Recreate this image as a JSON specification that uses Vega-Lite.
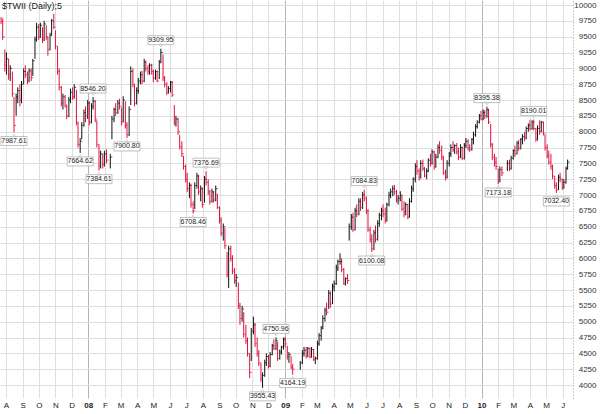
{
"$schema":"https://vega.github.io/schema/vega-lite/v6.json",
"width":573,"height":398,
"autosize":{"type":"none"},
"padding":{"left":0,"top":0,"right":27,"bottom":16},
"background":"white",
"config":{"view":{"stroke":null}},
"title":{"text":"$TWII (Daily);5","anchor":"start","offset":-11,"fontSize":9,"font":"Liberation Sans","fontWeight":"normal","color":"#222","frame":"group","dx":2},
"datasets":{
"px":[
{"d":"2007-07-23","o":9760,"h":9810,"l":9700,"c":9740},
{"d":"2007-07-26","o":9740,"h":9790,"l":9450,"c":9500},
{"d":"2007-07-30","o":9200,"h":9300,"l":8950,"c":9050},
{"d":"2007-08-02","o":9000,"h":9250,"l":8900,"c":9150},
{"d":"2007-08-06","o":9100,"h":9150,"l":8820,"c":8900},
{"d":"2007-08-09","o":8900,"h":9050,"l":8800,"c":9000},
{"d":"2007-08-13","o":8900,"h":8950,"l":8550,"c":8600},
{"d":"2007-08-16","o":8500,"h":8550,"l":7988,"c":8100},
{"d":"2007-08-20","o":8300,"h":8600,"l":8250,"c":8550},
{"d":"2007-08-23","o":8550,"h":8700,"l":8450,"c":8650},
{"d":"2007-08-27","o":8650,"h":8750,"l":8400,"c":8500},
{"d":"2007-08-30","o":8500,"h":8800,"l":8450,"c":8750},
{"d":"2007-09-03","o":8800,"h":9000,"l":8750,"c":8950},
{"d":"2007-09-06","o":8950,"h":9050,"l":8850,"c":8900},
{"d":"2007-09-10","o":8900,"h":8950,"l":8750,"c":8800},
{"d":"2007-09-13","o":8800,"h":9000,"l":8780,"c":8960},
{"d":"2007-09-17","o":8950,"h":9000,"l":8800,"c":8850},
{"d":"2007-09-20","o":8900,"h":9150,"l":8880,"c":9120},
{"d":"2007-09-24","o":9150,"h":9500,"l":9150,"c":9450},
{"d":"2007-09-27","o":9450,"h":9720,"l":9420,"c":9650},
{"d":"2007-10-01","o":9650,"h":9700,"l":9450,"c":9500},
{"d":"2007-10-04","o":9500,"h":9720,"l":9480,"c":9680},
{"d":"2007-10-08","o":9650,"h":9650,"l":9400,"c":9450},
{"d":"2007-10-11","o":9450,"h":9750,"l":9430,"c":9700},
{"d":"2007-10-15","o":9650,"h":9680,"l":9450,"c":9500},
{"d":"2007-10-18","o":9450,"h":9500,"l":9200,"c":9300},
{"d":"2007-10-22","o":9300,"h":9560,"l":9280,"c":9520},
{"d":"2007-10-25","o":9550,"h":9780,"l":9520,"c":9750},
{"d":"2007-10-29","o":9760,"h":9860,"l":9620,"c":9650},
{"d":"2007-11-01","o":9550,"h":9600,"l":9300,"c":9350},
{"d":"2007-11-05","o":9300,"h":9350,"l":8900,"c":8950},
{"d":"2007-11-08","o":8950,"h":9000,"l":8650,"c":8700},
{"d":"2007-11-12","o":8700,"h":8720,"l":8400,"c":8450},
{"d":"2007-11-15","o":8450,"h":8600,"l":8350,"c":8550},
{"d":"2007-11-19","o":8550,"h":8580,"l":8380,"c":8420},
{"d":"2007-11-22","o":8400,"h":8420,"l":8200,"c":8250},
{"d":"2007-11-26","o":8250,"h":8550,"l":8230,"c":8500},
{"d":"2007-11-29","o":8500,"h":8680,"l":8450,"c":8620},
{"d":"2007-12-03","o":8620,"h":8700,"l":8500,"c":8550},
{"d":"2007-12-06","o":8550,"h":8750,"l":8520,"c":8700},
{"d":"2007-12-10","o":8650,"h":8660,"l":8100,"c":8150},
{"d":"2007-12-13","o":8100,"h":8150,"l":7750,"c":7800},
{"d":"2007-12-17","o":7800,"h":7900,"l":7665,"c":7850},
{"d":"2007-12-20","o":7900,"h":8150,"l":7880,"c":8100},
{"d":"2007-12-24","o":8100,"h":8350,"l":8080,"c":8300},
{"d":"2007-12-27","o":8300,"h":8400,"l":8150,"c":8250},
{"d":"2007-12-31","o":8250,"h":8500,"l":8200,"c":8450},
{"d":"2008-01-03","o":8450,"h":8480,"l":8100,"c":8150},
{"d":"2008-01-07","o":8150,"h":8450,"l":8130,"c":8400},
{"d":"2008-01-10","o":8400,"h":8546,"l":8350,"c":8480},
{"d":"2008-01-14","o":8450,"h":8500,"l":8150,"c":8200},
{"d":"2008-01-17","o":8150,"h":8180,"l":7750,"c":7800},
{"d":"2008-01-21","o":7750,"h":7800,"l":7385,"c":7450},
{"d":"2008-01-24","o":7450,"h":7700,"l":7420,"c":7650},
{"d":"2008-01-28","o":7600,"h":7650,"l":7420,"c":7480},
{"d":"2008-01-31","o":7480,"h":7700,"l":7450,"c":7650},
{"d":"2008-02-04","o":7650,"h":7720,"l":7500,"c":7550},
{"d":"2008-02-11","o":7450,"h":7650,"l":7420,"c":7600},
{"d":"2008-02-14","o":7900,"h":8250,"l":7880,"c":8200},
{"d":"2008-02-18","o":8200,"h":8380,"l":8150,"c":8350},
{"d":"2008-02-21","o":8350,"h":8450,"l":8250,"c":8300},
{"d":"2008-02-25","o":8300,"h":8500,"l":8280,"c":8450},
{"d":"2008-02-28","o":8450,"h":8520,"l":8350,"c":8400},
{"d":"2008-03-03","o":8350,"h":8380,"l":8100,"c":8150},
{"d":"2008-03-06","o":8150,"h":8560,"l":8150,"c":8500},
{"d":"2008-03-10","o":8450,"h":8480,"l":8050,"c":8100},
{"d":"2008-03-13","o":8100,"h":8150,"l":7901,"c":7950},
{"d":"2008-03-17","o":7950,"h":8400,"l":7930,"c":8350},
{"d":"2008-03-20","o":8450,"h":9030,"l":8420,"c":8950},
{"d":"2008-03-24","o":8950,"h":9000,"l":8700,"c":8750},
{"d":"2008-03-27","o":8700,"h":8750,"l":8400,"c":8450},
{"d":"2008-03-31","o":8450,"h":8700,"l":8430,"c":8650},
{"d":"2008-04-03","o":8650,"h":8850,"l":8600,"c":8800},
{"d":"2008-04-07","o":8800,"h":8950,"l":8750,"c":8900},
{"d":"2008-04-10","o":8900,"h":8960,"l":8750,"c":8800},
{"d":"2008-04-14","o":8800,"h":9150,"l":8780,"c":9100},
{"d":"2008-04-17","o":9100,"h":9120,"l":8950,"c":9000},
{"d":"2008-04-21","o":9000,"h":9050,"l":8900,"c":8950},
{"d":"2008-04-24","o":8950,"h":9080,"l":8900,"c":9050},
{"d":"2008-04-28","o":9050,"h":9070,"l":8900,"c":8950},
{"d":"2008-05-01","o":8950,"h":8980,"l":8780,"c":8850},
{"d":"2008-05-05","o":8850,"h":8980,"l":8820,"c":8950},
{"d":"2008-05-08","o":8950,"h":8960,"l":8780,"c":8800},
{"d":"2008-05-12","o":8850,"h":9130,"l":8830,"c":9100},
{"d":"2008-05-15","o":9100,"h":9310,"l":9080,"c":9250},
{"d":"2008-05-19","o":9200,"h":9220,"l":8800,"c":8850},
{"d":"2008-05-22","o":8850,"h":8880,"l":8700,"c":8750},
{"d":"2008-05-26","o":8750,"h":8780,"l":8580,"c":8620},
{"d":"2008-05-29","o":8620,"h":8720,"l":8600,"c":8680},
{"d":"2008-06-02","o":8680,"h":8800,"l":8620,"c":8780},
{"d":"2008-06-05","o":8780,"h":8800,"l":8550,"c":8580},
{"d":"2008-06-09","o":8400,"h":8420,"l":8100,"c":8150},
{"d":"2008-06-12","o":8150,"h":8250,"l":8080,"c":8200},
{"d":"2008-06-16","o":8200,"h":8220,"l":7950,"c":8000},
{"d":"2008-06-19","o":7950,"h":7950,"l":7720,"c":7760},
{"d":"2008-06-23","o":7760,"h":7850,"l":7600,"c":7650},
{"d":"2008-06-26","o":7600,"h":7620,"l":7400,"c":7450},
{"d":"2008-06-30","o":7450,"h":7480,"l":7200,"c":7250},
{"d":"2008-07-03","o":7250,"h":7350,"l":7050,"c":7100},
{"d":"2008-07-07","o":7100,"h":7200,"l":6950,"c":7150},
{"d":"2008-07-10","o":7150,"h":7180,"l":6800,"c":6850},
{"d":"2008-07-14","o":6850,"h":6900,"l":6708,"c":6750},
{"d":"2008-07-17","o":6800,"h":7200,"l":6780,"c":7150},
{"d":"2008-07-21","o":7150,"h":7350,"l":7100,"c":7300},
{"d":"2008-07-24","o":7300,"h":7320,"l":7000,"c":7050},
{"d":"2008-07-28","o":7050,"h":7150,"l":6900,"c":7100},
{"d":"2008-07-31","o":7100,"h":7120,"l":6800,"c":6850},
{"d":"2008-08-04","o":6900,"h":7300,"l":6880,"c":7250},
{"d":"2008-08-07","o":7250,"h":7377,"l":7150,"c":7200},
{"d":"2008-08-11","o":7200,"h":7250,"l":7000,"c":7050},
{"d":"2008-08-14","o":7050,"h":7080,"l":6850,"c":6900},
{"d":"2008-08-18","o":6900,"h":7100,"l":6880,"c":7050},
{"d":"2008-08-21","o":7050,"h":7060,"l":6880,"c":6920},
{"d":"2008-08-25","o":6920,"h":7150,"l":6900,"c":7100},
{"d":"2008-08-28","o":7000,"h":7020,"l":6780,"c":6800},
{"d":"2008-09-01","o":6800,"h":6820,"l":6550,"c":6600},
{"d":"2008-09-04","o":6600,"h":6650,"l":6350,"c":6400},
{"d":"2008-09-08","o":6300,"h":6550,"l":6280,"c":6500},
{"d":"2008-09-11","o":6450,"h":6480,"l":6150,"c":6200},
{"d":"2008-09-15","o":6050,"h":6100,"l":5700,"c":5750},
{"d":"2008-09-18","o":5700,"h":6200,"l":5530,"c":6150},
{"d":"2008-09-22","o":6150,"h":6200,"l":5950,"c":6000},
{"d":"2008-09-25","o":6000,"h":6050,"l":5750,"c":5800},
{"d":"2008-09-29","o":5800,"h":5850,"l":5600,"c":5650},
{"d":"2008-10-02","o":5650,"h":5750,"l":5550,"c":5700},
{"d":"2008-10-06","o":5600,"h":5620,"l":5200,"c":5250},
{"d":"2008-10-09","o":5250,"h":5300,"l":4950,"c":5050},
{"d":"2008-10-13","o":5050,"h":5250,"l":5000,"c":5200},
{"d":"2008-10-16","o":5150,"h":5150,"l":4750,"c":4800},
{"d":"2008-10-20","o":4800,"h":4950,"l":4650,"c":4700},
{"d":"2008-10-23","o":4700,"h":4750,"l":4450,"c":4500},
{"d":"2008-10-27","o":4450,"h":4500,"l":4110,"c":4200},
{"d":"2008-10-30","o":4400,"h":4900,"l":4380,"c":4850},
{"d":"2008-11-03","o":4850,"h":5080,"l":4800,"c":4950},
{"d":"2008-11-06","o":4950,"h":4980,"l":4600,"c":4650},
{"d":"2008-11-10","o":4650,"h":4750,"l":4450,"c":4500},
{"d":"2008-11-13","o":4500,"h":4550,"l":4300,"c":4350},
{"d":"2008-11-17","o":4300,"h":4350,"l":4050,"c":4100},
{"d":"2008-11-20","o":4100,"h":4200,"l":3955,"c":4150},
{"d":"2008-11-24","o":4150,"h":4400,"l":4130,"c":4350},
{"d":"2008-11-27","o":4350,"h":4500,"l":4300,"c":4450},
{"d":"2008-12-01","o":4450,"h":4480,"l":4260,"c":4300},
{"d":"2008-12-04","o":4300,"h":4520,"l":4280,"c":4480},
{"d":"2008-12-08","o":4500,"h":4650,"l":4470,"c":4620},
{"d":"2008-12-11","o":4620,"h":4720,"l":4550,"c":4580},
{"d":"2008-12-15","o":4580,"h":4751,"l":4550,"c":4700},
{"d":"2008-12-18","o":4650,"h":4680,"l":4380,"c":4420},
{"d":"2008-12-22","o":4420,"h":4560,"l":4400,"c":4520},
{"d":"2008-12-25","o":4520,"h":4620,"l":4480,"c":4600},
{"d":"2008-12-29","o":4600,"h":4750,"l":4560,"c":4720},
{"d":"2009-01-01","o":4720,"h":4760,"l":4600,"c":4650},
{"d":"2009-01-05","o":4600,"h":4620,"l":4400,"c":4450},
{"d":"2009-01-08","o":4450,"h":4520,"l":4350,"c":4480},
{"d":"2009-01-12","o":4450,"h":4460,"l":4250,"c":4280},
{"d":"2009-01-15","o":4280,"h":4330,"l":4164,"c":4250},
{"d":"2009-01-29","o":4250,"h":4380,"l":4240,"c":4350},
{"d":"2009-02-02","o":4350,"h":4550,"l":4330,"c":4500},
{"d":"2009-02-05","o":4500,"h":4600,"l":4450,"c":4550},
{"d":"2009-02-09","o":4550,"h":4600,"l":4420,"c":4450},
{"d":"2009-02-12","o":4450,"h":4600,"l":4440,"c":4580},
{"d":"2009-02-16","o":4580,"h":4590,"l":4420,"c":4450},
{"d":"2009-02-19","o":4450,"h":4600,"l":4430,"c":4560},
{"d":"2009-02-23","o":4560,"h":4570,"l":4380,"c":4400},
{"d":"2009-02-26","o":4400,"h":4450,"l":4330,"c":4420},
{"d":"2009-03-02","o":4420,"h":4700,"l":4400,"c":4650},
{"d":"2009-03-05","o":4650,"h":4820,"l":4620,"c":4780},
{"d":"2009-03-09","o":4780,"h":4930,"l":4700,"c":4900},
{"d":"2009-03-12","o":4900,"h":5100,"l":4880,"c":5050},
{"d":"2009-03-16","o":5050,"h":5220,"l":5000,"c":5180},
{"d":"2009-03-19","o":5180,"h":5300,"l":5100,"c":5150},
{"d":"2009-03-23","o":5200,"h":5500,"l":5200,"c":5450},
{"d":"2009-03-26","o":5450,"h":5480,"l":5220,"c":5280},
{"d":"2009-03-30","o":5300,"h":5600,"l":5280,"c":5550},
{"d":"2009-04-02","o":5550,"h":5650,"l":5480,"c":5600},
{"d":"2009-04-06","o":5600,"h":5900,"l":5580,"c":5850},
{"d":"2009-04-09","o":5850,"h":5980,"l":5800,"c":5950},
{"d":"2009-04-13","o":5950,"h":6080,"l":5900,"c":5950},
{"d":"2009-04-16","o":5950,"h":6000,"l":5780,"c":5820},
{"d":"2009-04-20","o":5820,"h":5850,"l":5580,"c":5600},
{"d":"2009-04-23","o":5600,"h":5700,"l":5570,"c":5680},
{"d":"2009-04-27","o":5700,"h":5750,"l":5600,"c":5650},
{"d":"2009-04-30","o":6300,"h":6550,"l":6280,"c":6500},
{"d":"2009-05-04","o":6500,"h":6700,"l":6450,"c":6650},
{"d":"2009-05-07","o":6650,"h":6720,"l":6420,"c":6450},
{"d":"2009-05-11","o":6450,"h":6800,"l":6440,"c":6750},
{"d":"2009-05-14","o":6750,"h":6850,"l":6650,"c":6700},
{"d":"2009-05-18","o":6700,"h":6950,"l":6680,"c":6900},
{"d":"2009-05-21","o":6900,"h":6950,"l":6750,"c":6800},
{"d":"2009-05-25","o":6800,"h":7050,"l":6780,"c":7000},
{"d":"2009-05-28","o":7000,"h":7085,"l":6900,"c":6950},
{"d":"2009-06-01","o":6950,"h":6980,"l":6700,"c":6750},
{"d":"2009-06-04","o":6750,"h":6780,"l":6420,"c":6450},
{"d":"2009-06-08","o":6450,"h":6500,"l":6250,"c":6300},
{"d":"2009-06-11","o":6300,"h":6380,"l":6100,"c":6150},
{"d":"2009-06-15","o":6150,"h":6450,"l":6130,"c":6400},
{"d":"2009-06-18","o":6400,"h":6520,"l":6250,"c":6300},
{"d":"2009-06-22","o":6300,"h":6600,"l":6280,"c":6550},
{"d":"2009-06-25","o":6550,"h":6720,"l":6500,"c":6680},
{"d":"2009-06-29","o":6680,"h":6800,"l":6600,"c":6750},
{"d":"2009-07-02","o":6750,"h":6850,"l":6650,"c":6700},
{"d":"2009-07-06","o":6700,"h":6800,"l":6550,"c":6600},
{"d":"2009-07-09","o":6600,"h":6880,"l":6580,"c":6850},
{"d":"2009-07-13","o":6850,"h":7050,"l":6820,"c":7000},
{"d":"2009-07-16","o":7000,"h":7100,"l":6950,"c":7050},
{"d":"2009-07-20","o":7050,"h":7150,"l":6980,"c":7100},
{"d":"2009-07-23","o":7100,"h":7160,"l":7000,"c":7050},
{"d":"2009-07-27","o":7050,"h":7080,"l":6880,"c":6920},
{"d":"2009-07-30","o":6920,"h":7000,"l":6850,"c":6950},
{"d":"2009-08-03","o":6950,"h":7060,"l":6900,"c":7000},
{"d":"2009-08-06","o":7000,"h":7000,"l":6750,"c":6780},
{"d":"2009-08-10","o":6780,"h":6900,"l":6650,"c":6700},
{"d":"2009-08-13","o":6700,"h":6880,"l":6680,"c":6850},
{"d":"2009-08-17","o":6850,"h":6860,"l":6620,"c":6650},
{"d":"2009-08-20","o":6650,"h":6950,"l":6640,"c":6900},
{"d":"2009-08-24","o":6900,"h":7150,"l":6880,"c":7100},
{"d":"2009-08-27","o":7100,"h":7280,"l":7050,"c":7250},
{"d":"2009-08-31","o":7250,"h":7500,"l":7200,"c":7450},
{"d":"2009-09-03","o":7450,"h":7550,"l":7320,"c":7380},
{"d":"2009-09-07","o":7380,"h":7420,"l":7230,"c":7280},
{"d":"2009-09-10","o":7280,"h":7550,"l":7260,"c":7500},
{"d":"2009-09-14","o":7500,"h":7560,"l":7380,"c":7420},
{"d":"2009-09-17","o":7420,"h":7440,"l":7280,"c":7300},
{"d":"2009-09-21","o":7300,"h":7420,"l":7250,"c":7380},
{"d":"2009-09-24","o":7380,"h":7580,"l":7360,"c":7550},
{"d":"2009-09-28","o":7550,"h":7650,"l":7450,"c":7500},
{"d":"2009-10-01","o":7500,"h":7720,"l":7480,"c":7680},
{"d":"2009-10-05","o":7680,"h":7700,"l":7400,"c":7450},
{"d":"2009-10-08","o":7450,"h":7650,"l":7430,"c":7600},
{"d":"2009-10-12","o":7600,"h":7800,"l":7580,"c":7750},
{"d":"2009-10-15","o":7750,"h":7850,"l":7650,"c":7700},
{"d":"2009-10-19","o":7700,"h":7780,"l":7550,"c":7600},
{"d":"2009-10-22","o":7600,"h":7620,"l":7320,"c":7350},
{"d":"2009-10-26","o":7350,"h":7400,"l":7230,"c":7280},
{"d":"2009-10-29","o":7280,"h":7550,"l":7260,"c":7500},
{"d":"2009-11-02","o":7500,"h":7680,"l":7450,"c":7650},
{"d":"2009-11-05","o":7650,"h":7800,"l":7600,"c":7750},
{"d":"2009-11-09","o":7750,"h":7850,"l":7680,"c":7720},
{"d":"2009-11-12","o":7720,"h":7800,"l":7650,"c":7780},
{"d":"2009-11-16","o":7780,"h":7820,"l":7640,"c":7680},
{"d":"2009-11-19","o":7680,"h":7750,"l":7550,"c":7600},
{"d":"2009-11-23","o":7600,"h":7800,"l":7580,"c":7750},
{"d":"2009-11-26","o":7750,"h":7760,"l":7550,"c":7580},
{"d":"2009-11-30","o":7580,"h":7820,"l":7560,"c":7780},
{"d":"2009-12-03","o":7780,"h":7900,"l":7740,"c":7850},
{"d":"2009-12-07","o":7850,"h":7880,"l":7700,"c":7750},
{"d":"2009-12-10","o":7750,"h":7800,"l":7680,"c":7720},
{"d":"2009-12-14","o":7720,"h":7900,"l":7700,"c":7880},
{"d":"2009-12-17","o":7880,"h":8000,"l":7800,"c":7950},
{"d":"2009-12-21","o":7950,"h":8120,"l":7920,"c":8080},
{"d":"2009-12-24","o":8080,"h":8180,"l":8050,"c":8150},
{"d":"2009-12-28","o":8150,"h":8280,"l":8130,"c":8250},
{"d":"2009-12-31","o":8250,"h":8330,"l":8180,"c":8200},
{"d":"2010-01-04","o":8200,"h":8350,"l":8180,"c":8300},
{"d":"2010-01-07","o":8300,"h":8340,"l":8200,"c":8250},
{"d":"2010-01-11","o":8250,"h":8395,"l":8220,"c":8350},
{"d":"2010-01-14","o":8350,"h":8360,"l":8120,"c":8150},
{"d":"2010-01-18","o":8100,"h":8120,"l":7750,"c":7800},
{"d":"2010-01-21","o":7800,"h":7820,"l":7550,"c":7600},
{"d":"2010-01-25","o":7600,"h":7650,"l":7450,"c":7520},
{"d":"2010-01-28","o":7520,"h":7600,"l":7400,"c":7450},
{"d":"2010-02-01","o":7400,"h":7420,"l":7173,"c":7220},
{"d":"2010-02-04","o":7220,"h":7450,"l":7200,"c":7400},
{"d":"2010-02-08","o":7400,"h":7450,"l":7300,"c":7350},
{"d":"2010-02-18","o":7400,"h":7550,"l":7380,"c":7500},
{"d":"2010-02-22","o":7500,"h":7560,"l":7380,"c":7420},
{"d":"2010-02-25","o":7420,"h":7620,"l":7400,"c":7580},
{"d":"2010-03-01","o":7580,"h":7720,"l":7560,"c":7700},
{"d":"2010-03-04","o":7700,"h":7780,"l":7600,"c":7650},
{"d":"2010-03-08","o":7650,"h":7850,"l":7640,"c":7820},
{"d":"2010-03-11","o":7820,"h":7870,"l":7700,"c":7740},
{"d":"2010-03-15","o":7740,"h":7900,"l":7720,"c":7880},
{"d":"2010-03-18","o":7880,"h":7960,"l":7800,"c":7920},
{"d":"2010-03-22","o":7920,"h":8000,"l":7850,"c":7900},
{"d":"2010-03-25","o":7900,"h":8080,"l":7880,"c":8050},
{"d":"2010-03-29","o":8050,"h":8130,"l":8000,"c":8100},
{"d":"2010-04-01","o":8100,"h":8180,"l":8020,"c":8050},
{"d":"2010-04-05","o":8050,"h":8180,"l":8030,"c":8150},
{"d":"2010-04-08","o":8150,"h":8190,"l":8020,"c":8050},
{"d":"2010-04-12","o":8050,"h":8060,"l":7840,"c":7880},
{"d":"2010-04-15","o":7880,"h":8100,"l":7860,"c":8050},
{"d":"2010-04-19","o":8050,"h":8180,"l":7950,"c":8000},
{"d":"2010-04-22","o":8000,"h":8170,"l":7990,"c":8150},
{"d":"2010-04-26","o":8150,"h":8160,"l":7940,"c":7980},
{"d":"2010-04-29","o":7950,"h":7960,"l":7700,"c":7750},
{"d":"2010-05-03","o":7750,"h":7800,"l":7580,"c":7620},
{"d":"2010-05-06","o":7620,"h":7700,"l":7480,"c":7520},
{"d":"2010-05-10","o":7550,"h":7650,"l":7400,"c":7450},
{"d":"2010-05-13","o":7450,"h":7480,"l":7250,"c":7300},
{"d":"2010-05-17","o":7250,"h":7300,"l":7100,"c":7150},
{"d":"2010-05-20","o":7150,"h":7200,"l":7032,"c":7080},
{"d":"2010-05-24","o":7100,"h":7320,"l":7080,"c":7280},
{"d":"2010-05-27","o":7280,"h":7350,"l":7200,"c":7250},
{"d":"2010-05-31","o":7250,"h":7260,"l":7080,"c":7120},
{"d":"2010-06-03","o":7120,"h":7250,"l":7100,"c":7200},
{"d":"2010-06-07","o":7200,"h":7450,"l":7180,"c":7420},
{"d":"2010-06-10","o":7420,"h":7560,"l":7400,"c":7520}
],
"ann":[
{"d":"2007-08-16","v":7987.61,"t":"7987.61","p":"dn"},
{"d":"2007-12-17","v":7664.62,"t":"7664.62","p":"dn"},
{"d":"2008-01-10","v":8546.20,"t":"8546.20","p":"up"},
{"d":"2008-01-21","v":7384.61,"t":"7384.61","p":"dn"},
{"d":"2008-03-13","v":7900.80,"t":"7900.80","p":"dn"},
{"d":"2008-05-15","v":9309.95,"t":"9309.95","p":"up"},
{"d":"2008-07-14","v":6708.46,"t":"6708.46","p":"dn"},
{"d":"2008-08-07","v":7376.69,"t":"7376.69","p":"up"},
{"d":"2008-11-20","v":3955.43,"t":"3955.43","p":"dn"},
{"d":"2008-12-15","v":4750.96,"t":"4750.96","p":"up"},
{"d":"2009-01-15","v":4164.19,"t":"4164.19","p":"dn"},
{"d":"2009-05-28","v":7084.83,"t":"7084.83","p":"up"},
{"d":"2009-06-11","v":6100.08,"t":"6100.08","p":"dn"},
{"d":"2010-01-11","v":8395.38,"t":"8395.38","p":"up"},
{"d":"2010-02-01","v":7173.18,"t":"7173.18","p":"dn"},
{"d":"2010-04-08","v":8190.01,"t":"8190.01","p":"up"},
{"d":"2010-05-20","v":7032.40,"t":"7032.40","p":"dn"}
]
},
"encoding":{
"x":{"field":"d","type":"temporal","title":null,
"scale":{"type":"utc","domain":[{"year":2007,"month":7,"date":21,"utc":true},{"year":2010,"month":6,"date":20,"utc":true}]},
"axis":{"title":null,"orient":"bottom","domain":false,"ticks":false,"tickSize":0,"labelPadding":3,
"tickCount":{"interval":"month","step":1},
"labelExpr":"utcmonth(datum.value)==0 ? utcFormat(datum.value,'%y') : substring(utcFormat(datum.value,'%b'),0,1)",
"labelFont":"Liberation Sans","labelFontSize":8,"labelColor":"#222","labelOverlap":false,"labelFlush":false,
"labelFontWeight":{"condition":{"test":"utcmonth(datum.value)==0","value":"bold"},"value":"normal"},
"gridColor":{"condition":{"test":"utcmonth(datum.value)==0","value":"#b4b4b4"},"value":"#dedede"},
"gridWidth":1}},
"y":{"field":"yv","type":"quantitative","title":null,
"scale":{"domain":[3795,10079],"nice":false,"zero":false},
"axis":{"title":null,"orient":"right","format":"d","values":[4000,4250,4500,4750,5000,5250,5500,5750,6000,6250,6500,6750,7000,7250,7500,7750,8000,8250,8500,8750,9000,9250,9500,9750,10000],
"ticks":false,"tickSize":0,"labelPadding":23,"labelAlign":"right","labelBaseline":"middle","labelOverlap":false,
"labelFont":"Liberation Sans","labelFontSize":8,"labelColor":"#333",
"gridColor":"#dedede","domainColor":"#999","domainDash":[1,2]}}
},
"layer":[
{
"data":{"name":"px"},
"transform":[{"calculate":"datum.l","as":"yv"}],
"mark":{"type":"rule","strokeWidth":1},
"encoding":{
"y2":{"field":"h"},
"color":{"condition":{"test":"datum.c >= datum.o","value":"#111111"},"value":"#e0103c"}
}
},
{
"data":{"name":"px"},
"transform":[{"calculate":"datum.c","as":"yv"}],
"mark":{"type":"tick","orient":"horizontal","size":2,"thickness":1,"xOffset":1},
"encoding":{
"color":{"condition":{"test":"datum.c >= datum.o","value":"#111111"},"value":"#e0103c"}
}
},
{
"data":{"name":"ann"},
"transform":[{"filter":"datum.p == 'up'"},{"calculate":"datum.v","as":"yv"}],
"mark":{"type":"rect","xOffset":-13,"x2Offset":13,"yOffset":-13,"y2Offset":-4,"fill":"white","stroke":"#b0b0b0","strokeWidth":0.8},
"encoding":{"x2":{"field":"d"},"y2":{"field":"v"}}
},
{
"data":{"name":"ann"},
"transform":[{"filter":"datum.p == 'up'"},{"calculate":"datum.v","as":"yv"}],
"mark":{"type":"point","shape":"triangle-down","size":10,"yOffset":-3,"filled":true,"fill":"white","stroke":"#b0b0b0","strokeWidth":0.8},
"encoding":{}
},
{
"data":{"name":"ann"},
"transform":[{"filter":"datum.p == 'up'"},{"calculate":"datum.v","as":"yv"}],
"mark":{"type":"text","dy":-8.5,"baseline":"middle","align":"center","font":"Liberation Sans","fontSize":7,"color":"#222"},
"encoding":{"text":{"field":"t"}}
},
{
"data":{"name":"ann"},
"transform":[{"filter":"datum.p == 'dn'"},{"calculate":"datum.v","as":"yv"}],
"mark":{"type":"rect","xOffset":-13,"x2Offset":13,"yOffset":4,"y2Offset":13,"fill":"white","stroke":"#b0b0b0","strokeWidth":0.8},
"encoding":{"x2":{"field":"d"},"y2":{"field":"v"}}
},
{
"data":{"name":"ann"},
"transform":[{"filter":"datum.p == 'dn'"},{"calculate":"datum.v","as":"yv"}],
"mark":{"type":"point","shape":"triangle-up","size":10,"yOffset":3,"filled":true,"fill":"white","stroke":"#b0b0b0","strokeWidth":0.8},
"encoding":{}
},
{
"data":{"name":"ann"},
"transform":[{"filter":"datum.p == 'dn'"},{"calculate":"datum.v","as":"yv"}],
"mark":{"type":"text","dy":8.5,"baseline":"middle","align":"center","font":"Liberation Sans","fontSize":7,"color":"#222"},
"encoding":{"text":{"field":"t"}}
}
]
}
